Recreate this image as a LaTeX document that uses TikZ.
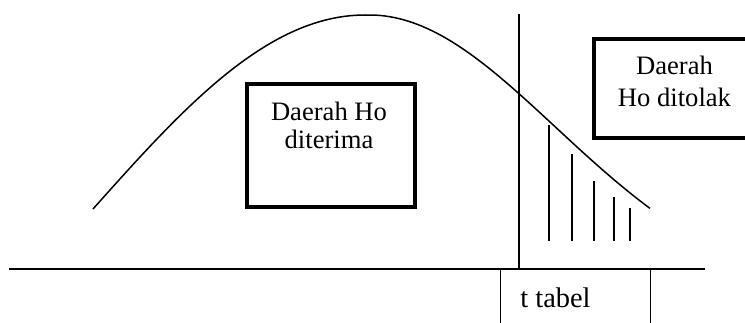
\documentclass[tikz,border=0pt]{standalone}
\usepackage{fontspec}
\setmainfont{Liberation Serif}
\usetikzlibrary{positioning,calc}

\begin{document}
\begin{tikzpicture}[
    x=0.5pt, y=-0.5pt,
    region box/.style={rectangle, draw=black, line width=2pt, minimum width=84pt, inner sep=0pt},
    region text/.style={align=center, inner sep=0pt, anchor=north},
    tabel box/.style={rectangle, draw=black, line width=0.5pt, minimum width=75pt, minimum height=38pt, inner sep=0pt},
    axis line/.style={line width=1pt},
    curve line/.style={line width=0.75pt},
    hatch line/.style={line width=0.8pt}
]
    \useasboundingbox (0,0) rectangle (745,322);

    % Axis and t tabel
    \coordinate (axisL) at (9,269);
    \coordinate (axisR) at (705,269);
    \node[tabel box] (tabel) at (575,307) {};
    \draw[axis line] (axisL) -- (axisR);
    \node[font=\fontsize{14.2}{16}\selectfont, anchor=base west, inner sep=0pt] (ttext) at (520,307) {t tabel};

    % Critical value line
    \coordinate (ttop) at (519,14);
    \draw[line width=0.7pt] (ttop) -- (ttop |- axisL);

    % Bell curve (left and right halves)
    \draw[curve line]
        plot[domain=93:365, samples=60] (\x, {209-194*cos((365-\x)*0.33088)})
        -- plot[domain=365:650, samples=60] (\x, {300-285*exp(-0.5*((\x-369)/186.5)^2)});

    % Rejection area
    \foreach \hx/\hy in {549/125, 572/154, 594/181, 614/197, 630/208} {
        \draw[hatch line] (\hx,\hy) -- (\hx,241);
    }

    % Regions
    \node[region box, minimum height=61.5pt] (terima) at (331,145.5) {};
    \node[region text, font=\fontsize{13.3}{14}\selectfont] (terimatext) at (329,102) {Daerah Ho\\diterima};

    \node[region box, minimum height=49.5pt] (tolak) at (678,88.5) {};
    \node[region text, font=\fontsize{13.3}{16}\selectfont] (tolaktext) at (674.5,56) {Daerah\\Ho ditolak};
\end{tikzpicture}
\end{document}
